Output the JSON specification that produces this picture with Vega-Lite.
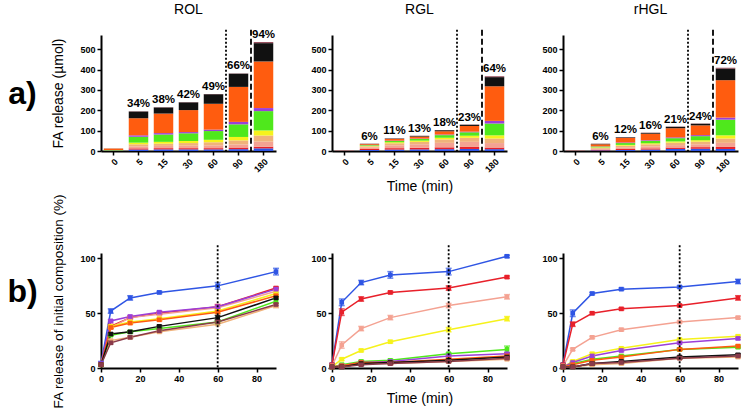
{
"$schema":"https://vega.github.io/schema/vega-lite/v6.json",
"background":"white",
"padding":{"left":0,"top":2,"right":0,"bottom":0},
"bounds":"flush",
"columns":4,
"spacing":{"row":102,"column":56},
"datasets":{
"panels":[{"p":"a)"},{"p":"b)"}],
"cuts":[{"t":90,"k":"dotted"},{"t":180,"k":"dashed"}],
"cut60":[{"t":60}],
"pct":[
{"s":"ROL","t":5,"total":195,"label":"34%"},{"s":"ROL","t":15,"total":215,"label":"38%"},{"s":"ROL","t":30,"total":240,"label":"42%"},{"s":"ROL","t":60,"total":280,"label":"49%"},{"s":"ROL","t":90,"total":381,"label":"66%"},{"s":"ROL","t":180,"total":535,"label":"94%"},
{"s":"RGL","t":5,"total":36,"label":"6%"},{"s":"RGL","t":15,"total":62,"label":"11%"},{"s":"RGL","t":30,"total":75,"label":"13%"},{"s":"RGL","t":60,"total":103,"label":"18%"},{"s":"RGL","t":90,"total":130,"label":"23%"},{"s":"RGL","t":180,"total":367,"label":"64%"},
{"s":"rHGL","t":5,"total":36,"label":"6%"},{"s":"rHGL","t":15,"total":68,"label":"12%"},{"s":"rHGL","t":30,"total":90,"label":"16%"},{"s":"rHGL","t":60,"total":120,"label":"21%"},{"s":"rHGL","t":90,"total":135,"label":"24%"},{"s":"rHGL","t":180,"total":409,"label":"72%"}
],
"bars":[
{"s":"ROL","t":0,"f":"FA01","v":0.5},{"s":"ROL","t":0,"f":"FA02","v":0.5},{"s":"ROL","t":0,"f":"FA03","v":0.5},{"s":"ROL","t":0,"f":"FA04","v":0.5},{"s":"ROL","t":0,"f":"FA05","v":0.5},{"s":"ROL","t":0,"f":"FA06","v":2},{"s":"ROL","t":0,"f":"FA07","v":0.5},{"s":"ROL","t":0,"f":"FA08","v":7},{"s":"ROL","t":0,"f":"FA09","v":0.5},
{"s":"ROL","t":5,"f":"FA01","v":7},{"s":"ROL","t":5,"f":"FA02","v":6},{"s":"ROL","t":5,"f":"FA03","v":10},{"s":"ROL","t":5,"f":"FA04","v":10},{"s":"ROL","t":5,"f":"FA05","v":8},{"s":"ROL","t":5,"f":"FA06","v":29},{"s":"ROL","t":5,"f":"FA07","v":7},{"s":"ROL","t":5,"f":"FA08","v":84},{"s":"ROL","t":5,"f":"FA09","v":33},{"s":"ROL","t":5,"f":"FA10","v":1},
{"s":"ROL","t":15,"f":"FA01","v":8},{"s":"ROL","t":15,"f":"FA02","v":6},{"s":"ROL","t":15,"f":"FA03","v":11},{"s":"ROL","t":15,"f":"FA04","v":11},{"s":"ROL","t":15,"f":"FA05","v":9},{"s":"ROL","t":15,"f":"FA06","v":36},{"s":"ROL","t":15,"f":"FA07","v":7},{"s":"ROL","t":15,"f":"FA08","v":96},{"s":"ROL","t":15,"f":"FA09","v":30},{"s":"ROL","t":15,"f":"FA10","v":1},
{"s":"ROL","t":30,"f":"FA01","v":8},{"s":"ROL","t":30,"f":"FA02","v":6},{"s":"ROL","t":30,"f":"FA03","v":12},{"s":"ROL","t":30,"f":"FA04","v":13},{"s":"ROL","t":30,"f":"FA05","v":10},{"s":"ROL","t":30,"f":"FA06","v":38},{"s":"ROL","t":30,"f":"FA07","v":6},{"s":"ROL","t":30,"f":"FA08","v":108},{"s":"ROL","t":30,"f":"FA09","v":38},{"s":"ROL","t":30,"f":"FA10","v":1},
{"s":"ROL","t":60,"f":"FA01","v":8},{"s":"ROL","t":60,"f":"FA02","v":6},{"s":"ROL","t":60,"f":"FA03","v":14},{"s":"ROL","t":60,"f":"FA04","v":15},{"s":"ROL","t":60,"f":"FA05","v":12},{"s":"ROL","t":60,"f":"FA06","v":43},{"s":"ROL","t":60,"f":"FA07","v":7},{"s":"ROL","t":60,"f":"FA08","v":127},{"s":"ROL","t":60,"f":"FA09","v":47},{"s":"ROL","t":60,"f":"FA10","v":1},
{"s":"ROL","t":90,"f":"FA01","v":9},{"s":"ROL","t":90,"f":"FA02","v":8},{"s":"ROL","t":90,"f":"FA03","v":15},{"s":"ROL","t":90,"f":"FA04","v":20},{"s":"ROL","t":90,"f":"FA05","v":17},{"s":"ROL","t":90,"f":"FA06","v":62},{"s":"ROL","t":90,"f":"FA07","v":12},{"s":"ROL","t":90,"f":"FA08","v":172},{"s":"ROL","t":90,"f":"FA09","v":65},{"s":"ROL","t":90,"f":"FA10","v":1},
{"s":"ROL","t":180,"f":"FA01","v":13},{"s":"ROL","t":180,"f":"FA02","v":8},{"s":"ROL","t":180,"f":"FA03","v":25},{"s":"ROL","t":180,"f":"FA04","v":30},{"s":"ROL","t":180,"f":"FA05","v":25},{"s":"ROL","t":180,"f":"FA06","v":95},{"s":"ROL","t":180,"f":"FA07","v":15},{"s":"ROL","t":180,"f":"FA08","v":229},{"s":"ROL","t":180,"f":"FA09","v":90},{"s":"ROL","t":180,"f":"FA10","v":5},
{"s":"RGL","t":0,"f":"FA01","v":0.5},{"s":"RGL","t":0,"f":"FA02","v":0.5},{"s":"RGL","t":0,"f":"FA03","v":0.5},{"s":"RGL","t":0,"f":"FA08","v":0.5},
{"s":"RGL","t":5,"f":"FA01","v":5},{"s":"RGL","t":5,"f":"FA02","v":5},{"s":"RGL","t":5,"f":"FA03","v":8},{"s":"RGL","t":5,"f":"FA04","v":5},{"s":"RGL","t":5,"f":"FA05","v":3},{"s":"RGL","t":5,"f":"FA06","v":3},{"s":"RGL","t":5,"f":"FA07","v":1},{"s":"RGL","t":5,"f":"FA08","v":4},{"s":"RGL","t":5,"f":"FA09","v":1},{"s":"RGL","t":5,"f":"FA10","v":1},
{"s":"RGL","t":15,"f":"FA01","v":7},{"s":"RGL","t":15,"f":"FA02","v":7},{"s":"RGL","t":15,"f":"FA03","v":14},{"s":"RGL","t":15,"f":"FA04","v":10},{"s":"RGL","t":15,"f":"FA05","v":5},{"s":"RGL","t":15,"f":"FA06","v":6},{"s":"RGL","t":15,"f":"FA07","v":2},{"s":"RGL","t":15,"f":"FA08","v":8},{"s":"RGL","t":15,"f":"FA09","v":2},{"s":"RGL","t":15,"f":"FA10","v":1},
{"s":"RGL","t":30,"f":"FA01","v":8},{"s":"RGL","t":30,"f":"FA02","v":8},{"s":"RGL","t":30,"f":"FA03","v":17},{"s":"RGL","t":30,"f":"FA04","v":12},{"s":"RGL","t":30,"f":"FA05","v":6},{"s":"RGL","t":30,"f":"FA06","v":8},{"s":"RGL","t":30,"f":"FA07","v":2},{"s":"RGL","t":30,"f":"FA08","v":10},{"s":"RGL","t":30,"f":"FA09","v":3},{"s":"RGL","t":30,"f":"FA10","v":1},
{"s":"RGL","t":60,"f":"FA01","v":9},{"s":"RGL","t":60,"f":"FA02","v":9},{"s":"RGL","t":60,"f":"FA03","v":22},{"s":"RGL","t":60,"f":"FA04","v":17},{"s":"RGL","t":60,"f":"FA05","v":8},{"s":"RGL","t":60,"f":"FA06","v":13},{"s":"RGL","t":60,"f":"FA07","v":3},{"s":"RGL","t":60,"f":"FA08","v":16},{"s":"RGL","t":60,"f":"FA09","v":5},{"s":"RGL","t":60,"f":"FA10","v":1},
{"s":"RGL","t":90,"f":"FA01","v":10},{"s":"RGL","t":90,"f":"FA02","v":10},{"s":"RGL","t":90,"f":"FA03","v":25},{"s":"RGL","t":90,"f":"FA04","v":20},{"s":"RGL","t":90,"f":"FA05","v":10},{"s":"RGL","t":90,"f":"FA06","v":17},{"s":"RGL","t":90,"f":"FA07","v":3},{"s":"RGL","t":90,"f":"FA08","v":28},{"s":"RGL","t":90,"f":"FA09","v":6},{"s":"RGL","t":90,"f":"FA10","v":1},
{"s":"RGL","t":180,"f":"FA01","v":9},{"s":"RGL","t":180,"f":"FA02","v":8},{"s":"RGL","t":180,"f":"FA03","v":22},{"s":"RGL","t":180,"f":"FA04","v":22},{"s":"RGL","t":180,"f":"FA05","v":16},{"s":"RGL","t":180,"f":"FA06","v":58},{"s":"RGL","t":180,"f":"FA07","v":13},{"s":"RGL","t":180,"f":"FA08","v":170},{"s":"RGL","t":180,"f":"FA09","v":45},{"s":"RGL","t":180,"f":"FA10","v":4},
{"s":"rHGL","t":0,"f":"FA01","v":0.5},{"s":"rHGL","t":0,"f":"FA02","v":0.5},{"s":"rHGL","t":0,"f":"FA03","v":0.5},{"s":"rHGL","t":0,"f":"FA08","v":0.5},
{"s":"rHGL","t":5,"f":"FA01","v":3},{"s":"rHGL","t":5,"f":"FA02","v":3},{"s":"rHGL","t":5,"f":"FA03","v":5},{"s":"rHGL","t":5,"f":"FA04","v":5},{"s":"rHGL","t":5,"f":"FA05","v":2},{"s":"rHGL","t":5,"f":"FA06","v":4},{"s":"rHGL","t":5,"f":"FA07","v":1},{"s":"rHGL","t":5,"f":"FA08","v":10},{"s":"rHGL","t":5,"f":"FA09","v":2},{"s":"rHGL","t":5,"f":"FA10","v":1},
{"s":"rHGL","t":15,"f":"FA01","v":5},{"s":"rHGL","t":15,"f":"FA02","v":5},{"s":"rHGL","t":15,"f":"FA03","v":8},{"s":"rHGL","t":15,"f":"FA04","v":8},{"s":"rHGL","t":15,"f":"FA05","v":4},{"s":"rHGL","t":15,"f":"FA06","v":9},{"s":"rHGL","t":15,"f":"FA07","v":3},{"s":"rHGL","t":15,"f":"FA08","v":22},{"s":"rHGL","t":15,"f":"FA09","v":3},{"s":"rHGL","t":15,"f":"FA10","v":1},
{"s":"rHGL","t":30,"f":"FA01","v":7},{"s":"rHGL","t":30,"f":"FA02","v":6},{"s":"rHGL","t":30,"f":"FA03","v":10},{"s":"rHGL","t":30,"f":"FA04","v":10},{"s":"rHGL","t":30,"f":"FA05","v":5},{"s":"rHGL","t":30,"f":"FA06","v":12},{"s":"rHGL","t":30,"f":"FA07","v":3},{"s":"rHGL","t":30,"f":"FA08","v":32},{"s":"rHGL","t":30,"f":"FA09","v":4},{"s":"rHGL","t":30,"f":"FA10","v":1},
{"s":"rHGL","t":60,"f":"FA01","v":10},{"s":"rHGL","t":60,"f":"FA02","v":7},{"s":"rHGL","t":60,"f":"FA03","v":12},{"s":"rHGL","t":60,"f":"FA04","v":12},{"s":"rHGL","t":60,"f":"FA05","v":6},{"s":"rHGL","t":60,"f":"FA06","v":16},{"s":"rHGL","t":60,"f":"FA07","v":4},{"s":"rHGL","t":60,"f":"FA08","v":45},{"s":"rHGL","t":60,"f":"FA09","v":7},{"s":"rHGL","t":60,"f":"FA10","v":1},
{"s":"rHGL","t":90,"f":"FA01","v":11},{"s":"rHGL","t":90,"f":"FA02","v":8},{"s":"rHGL","t":90,"f":"FA03","v":14},{"s":"rHGL","t":90,"f":"FA04","v":13},{"s":"rHGL","t":90,"f":"FA05","v":7},{"s":"rHGL","t":90,"f":"FA06","v":20},{"s":"rHGL","t":90,"f":"FA07","v":5},{"s":"rHGL","t":90,"f":"FA08","v":48},{"s":"rHGL","t":90,"f":"FA09","v":8},{"s":"rHGL","t":90,"f":"FA10","v":1},
{"s":"rHGL","t":180,"f":"FA01","v":10},{"s":"rHGL","t":180,"f":"FA02","v":10},{"s":"rHGL","t":180,"f":"FA03","v":20},{"s":"rHGL","t":180,"f":"FA04","v":21},{"s":"rHGL","t":180,"f":"FA05","v":16},{"s":"rHGL","t":180,"f":"FA06","v":77},{"s":"rHGL","t":180,"f":"FA07","v":10},{"s":"rHGL","t":180,"f":"FA08","v":184},{"s":"rHGL","t":180,"f":"FA09","v":57},{"s":"rHGL","t":180,"f":"FA10","v":4}
],
"lines":[
{"s":"ROL","f":"FA01","t":0,"v":4,"e":2},{"s":"ROL","f":"FA01","t":5,"v":52,"e":2},{"s":"ROL","f":"FA01","t":15,"v":64,"e":2},{"s":"ROL","f":"FA01","t":30,"v":69,"e":1},{"s":"ROL","f":"FA01","t":60,"v":75,"e":3},{"s":"ROL","f":"FA01","t":90,"v":88,"e":3},
{"s":"ROL","f":"FA02","t":0,"v":3,"e":1},{"s":"ROL","f":"FA02","t":5,"v":38,"e":2},{"s":"ROL","f":"FA02","t":15,"v":46,"e":1},{"s":"ROL","f":"FA02","t":30,"v":50,"e":1},{"s":"ROL","f":"FA02","t":60,"v":56,"e":2},{"s":"ROL","f":"FA02","t":90,"v":73,"e":1},
{"s":"ROL","f":"FA03","t":0,"v":3,"e":1},{"s":"ROL","f":"FA03","t":5,"v":37,"e":1},{"s":"ROL","f":"FA03","t":15,"v":46,"e":1},{"s":"ROL","f":"FA03","t":30,"v":49,"e":1},{"s":"ROL","f":"FA03","t":60,"v":55,"e":1},{"s":"ROL","f":"FA03","t":90,"v":70,"e":1},
{"s":"ROL","f":"FA04","t":0,"v":3,"e":1},{"s":"ROL","f":"FA04","t":5,"v":25,"e":1},{"s":"ROL","f":"FA04","t":15,"v":28,"e":1},{"s":"ROL","f":"FA04","t":30,"v":33,"e":1},{"s":"ROL","f":"FA04","t":60,"v":40,"e":1},{"s":"ROL","f":"FA04","t":90,"v":57,"e":2},
{"s":"ROL","f":"FA05","t":0,"v":3,"e":1},{"s":"ROL","f":"FA05","t":5,"v":38,"e":1},{"s":"ROL","f":"FA05","t":15,"v":42,"e":1},{"s":"ROL","f":"FA05","t":30,"v":45,"e":1},{"s":"ROL","f":"FA05","t":60,"v":52,"e":2},{"s":"ROL","f":"FA05","t":90,"v":68,"e":1},
{"s":"ROL","f":"FA06","t":0,"v":3,"e":1},{"s":"ROL","f":"FA06","t":5,"v":30,"e":1},{"s":"ROL","f":"FA06","t":15,"v":33,"e":1},{"s":"ROL","f":"FA06","t":30,"v":36,"e":1},{"s":"ROL","f":"FA06","t":60,"v":42,"e":1},{"s":"ROL","f":"FA06","t":90,"v":61,"e":2},
{"s":"ROL","f":"FA07","t":0,"v":4,"e":1},{"s":"ROL","f":"FA07","t":5,"v":43,"e":1},{"s":"ROL","f":"FA07","t":15,"v":47,"e":1},{"s":"ROL","f":"FA07","t":30,"v":51,"e":1},{"s":"ROL","f":"FA07","t":60,"v":56,"e":1},{"s":"ROL","f":"FA07","t":90,"v":72,"e":1},
{"s":"ROL","f":"FA08","t":0,"v":3,"e":1},{"s":"ROL","f":"FA08","t":5,"v":37,"e":1},{"s":"ROL","f":"FA08","t":15,"v":41,"e":1},{"s":"ROL","f":"FA08","t":30,"v":44,"e":1},{"s":"ROL","f":"FA08","t":60,"v":51,"e":1},{"s":"ROL","f":"FA08","t":90,"v":66,"e":1},
{"s":"ROL","f":"FA09","t":0,"v":3,"e":1},{"s":"ROL","f":"FA09","t":5,"v":31,"e":1},{"s":"ROL","f":"FA09","t":15,"v":33,"e":1},{"s":"ROL","f":"FA09","t":30,"v":38,"e":1},{"s":"ROL","f":"FA09","t":60,"v":46,"e":2},{"s":"ROL","f":"FA09","t":90,"v":64,"e":1},
{"s":"ROL","f":"FA10","t":0,"v":3,"e":1},{"s":"ROL","f":"FA10","t":5,"v":23,"e":1},{"s":"ROL","f":"FA10","t":15,"v":28,"e":1},{"s":"ROL","f":"FA10","t":30,"v":34,"e":1},{"s":"ROL","f":"FA10","t":60,"v":42,"e":1},{"s":"ROL","f":"FA10","t":90,"v":58,"e":1},
{"s":"RGL","f":"FA01","t":0,"v":3,"e":1},{"s":"RGL","f":"FA01","t":5,"v":60,"e":3},{"s":"RGL","f":"FA01","t":15,"v":78,"e":2},{"s":"RGL","f":"FA01","t":30,"v":85,"e":3},{"s":"RGL","f":"FA01","t":60,"v":88,"e":3},{"s":"RGL","f":"FA01","t":90,"v":102,"e":1},
{"s":"RGL","f":"FA02","t":0,"v":3,"e":1},{"s":"RGL","f":"FA02","t":5,"v":51,"e":3},{"s":"RGL","f":"FA02","t":15,"v":63,"e":2},{"s":"RGL","f":"FA02","t":30,"v":69,"e":1},{"s":"RGL","f":"FA02","t":60,"v":73,"e":2},{"s":"RGL","f":"FA02","t":90,"v":83,"e":1},
{"s":"RGL","f":"FA03","t":0,"v":2,"e":1},{"s":"RGL","f":"FA03","t":5,"v":21,"e":3},{"s":"RGL","f":"FA03","t":15,"v":36,"e":2},{"s":"RGL","f":"FA03","t":30,"v":46,"e":2},{"s":"RGL","f":"FA03","t":60,"v":57,"e":2},{"s":"RGL","f":"FA03","t":90,"v":65,"e":2},
{"s":"RGL","f":"FA04","t":0,"v":1,"e":0},{"s":"RGL","f":"FA04","t":5,"v":1,"e":1},{"s":"RGL","f":"FA04","t":15,"v":4,"e":1},{"s":"RGL","f":"FA04","t":30,"v":4,"e":1},{"s":"RGL","f":"FA04","t":60,"v":6,"e":1},{"s":"RGL","f":"FA04","t":90,"v":8,"e":1},
{"s":"RGL","f":"FA05","t":0,"v":1,"e":0},{"s":"RGL","f":"FA05","t":5,"v":8,"e":1},{"s":"RGL","f":"FA05","t":15,"v":16,"e":1},{"s":"RGL","f":"FA05","t":30,"v":24,"e":1},{"s":"RGL","f":"FA05","t":60,"v":35,"e":2},{"s":"RGL","f":"FA05","t":90,"v":45,"e":2},
{"s":"RGL","f":"FA06","t":0,"v":1,"e":0},{"s":"RGL","f":"FA06","t":5,"v":3,"e":1},{"s":"RGL","f":"FA06","t":15,"v":6,"e":1},{"s":"RGL","f":"FA06","t":30,"v":7,"e":1},{"s":"RGL","f":"FA06","t":60,"v":13,"e":1},{"s":"RGL","f":"FA06","t":90,"v":17,"e":3},
{"s":"RGL","f":"FA07","t":0,"v":1,"e":0},{"s":"RGL","f":"FA07","t":5,"v":2,"e":1},{"s":"RGL","f":"FA07","t":15,"v":5,"e":1},{"s":"RGL","f":"FA07","t":30,"v":6,"e":1},{"s":"RGL","f":"FA07","t":60,"v":11,"e":1},{"s":"RGL","f":"FA07","t":90,"v":13,"e":1},
{"s":"RGL","f":"FA08","t":0,"v":1,"e":0},{"s":"RGL","f":"FA08","t":5,"v":2,"e":1},{"s":"RGL","f":"FA08","t":15,"v":5,"e":1},{"s":"RGL","f":"FA08","t":30,"v":5,"e":1},{"s":"RGL","f":"FA08","t":60,"v":8,"e":1},{"s":"RGL","f":"FA08","t":90,"v":11,"e":2},
{"s":"RGL","f":"FA09","t":0,"v":1,"e":0},{"s":"RGL","f":"FA09","t":5,"v":1,"e":1},{"s":"RGL","f":"FA09","t":15,"v":4,"e":1},{"s":"RGL","f":"FA09","t":30,"v":5,"e":1},{"s":"RGL","f":"FA09","t":60,"v":7,"e":1},{"s":"RGL","f":"FA09","t":90,"v":10,"e":1},
{"s":"RGL","f":"FA10","t":0,"v":1,"e":0},{"s":"RGL","f":"FA10","t":5,"v":1,"e":1},{"s":"RGL","f":"FA10","t":15,"v":3,"e":1},{"s":"RGL","f":"FA10","t":30,"v":4,"e":1},{"s":"RGL","f":"FA10","t":60,"v":6,"e":1},{"s":"RGL","f":"FA10","t":90,"v":9,"e":1},
{"s":"rHGL","f":"FA01","t":0,"v":3,"e":1},{"s":"rHGL","f":"FA01","t":5,"v":50,"e":3},{"s":"rHGL","f":"FA01","t":15,"v":68,"e":1},{"s":"rHGL","f":"FA01","t":30,"v":72,"e":1},{"s":"rHGL","f":"FA01","t":60,"v":74,"e":1},{"s":"rHGL","f":"FA01","t":90,"v":79,"e":2},
{"s":"rHGL","f":"FA02","t":0,"v":3,"e":1},{"s":"rHGL","f":"FA02","t":5,"v":40,"e":2},{"s":"rHGL","f":"FA02","t":15,"v":50,"e":1},{"s":"rHGL","f":"FA02","t":30,"v":54,"e":1},{"s":"rHGL","f":"FA02","t":60,"v":57,"e":1},{"s":"rHGL","f":"FA02","t":90,"v":64,"e":2},
{"s":"rHGL","f":"FA03","t":0,"v":2,"e":1},{"s":"rHGL","f":"FA03","t":5,"v":17,"e":1},{"s":"rHGL","f":"FA03","t":15,"v":28,"e":1},{"s":"rHGL","f":"FA03","t":30,"v":35,"e":1},{"s":"rHGL","f":"FA03","t":60,"v":42,"e":1},{"s":"rHGL","f":"FA03","t":90,"v":46,"e":1},
{"s":"rHGL","f":"FA04","t":0,"v":1,"e":0},{"s":"rHGL","f":"FA04","t":5,"v":1,"e":1},{"s":"rHGL","f":"FA04","t":15,"v":3,"e":1},{"s":"rHGL","f":"FA04","t":30,"v":4,"e":1},{"s":"rHGL","f":"FA04","t":60,"v":9,"e":1},{"s":"rHGL","f":"FA04","t":90,"v":10,"e":1},
{"s":"rHGL","f":"FA05","t":0,"v":1,"e":0},{"s":"rHGL","f":"FA05","t":5,"v":6,"e":1},{"s":"rHGL","f":"FA05","t":15,"v":13,"e":1},{"s":"rHGL","f":"FA05","t":30,"v":18,"e":1},{"s":"rHGL","f":"FA05","t":60,"v":26,"e":1},{"s":"rHGL","f":"FA05","t":90,"v":29,"e":1},
{"s":"rHGL","f":"FA06","t":0,"v":1,"e":0},{"s":"rHGL","f":"FA06","t":5,"v":4,"e":1},{"s":"rHGL","f":"FA06","t":15,"v":8,"e":1},{"s":"rHGL","f":"FA06","t":30,"v":11,"e":1},{"s":"rHGL","f":"FA06","t":60,"v":17,"e":1},{"s":"rHGL","f":"FA06","t":90,"v":19,"e":1},
{"s":"rHGL","f":"FA07","t":0,"v":1,"e":0},{"s":"rHGL","f":"FA07","t":5,"v":5,"e":1},{"s":"rHGL","f":"FA07","t":15,"v":11,"e":1},{"s":"rHGL","f":"FA07","t":30,"v":16,"e":1},{"s":"rHGL","f":"FA07","t":60,"v":23,"e":1},{"s":"rHGL","f":"FA07","t":90,"v":27,"e":1},
{"s":"rHGL","f":"FA08","t":0,"v":1,"e":0},{"s":"rHGL","f":"FA08","t":5,"v":3,"e":1},{"s":"rHGL","f":"FA08","t":15,"v":7,"e":1},{"s":"rHGL","f":"FA08","t":30,"v":10,"e":1},{"s":"rHGL","f":"FA08","t":60,"v":17,"e":1},{"s":"rHGL","f":"FA08","t":90,"v":20,"e":1},
{"s":"rHGL","f":"FA09","t":0,"v":1,"e":0},{"s":"rHGL","f":"FA09","t":5,"v":1,"e":1},{"s":"rHGL","f":"FA09","t":15,"v":4,"e":1},{"s":"rHGL","f":"FA09","t":30,"v":6,"e":1},{"s":"rHGL","f":"FA09","t":60,"v":10,"e":1},{"s":"rHGL","f":"FA09","t":90,"v":12,"e":1},
{"s":"rHGL","f":"FA10","t":0,"v":1,"e":0},{"s":"rHGL","f":"FA10","t":5,"v":1,"e":1},{"s":"rHGL","f":"FA10","t":15,"v":4,"e":1},{"s":"rHGL","f":"FA10","t":30,"v":5,"e":1},{"s":"rHGL","f":"FA10","t":60,"v":9,"e":1},{"s":"rHGL","f":"FA10","t":90,"v":11,"e":1}
]
},
"concat":[
 {"width":45,"height":116,"data":{"name":"panels"},"transform":[{"filter":"datum.p==='a)'"}],"mark":{"type":"text","fontSize":32,"fontWeight":"bold","font":"Liberation Sans","color":"black","dy":1},"encoding":{"text":{"field":"p"}}},
 {"width":175,"height":116,"title":"ROL","layer":[
  {"data":{"name":"bars"},"transform":[{"filter":"datum.s==='ROL'"}],"mark":{"type":"bar"},"encoding":{
   "x":{"field":"t","type":"ordinal","title":null,"scale":{"domain":[0,5,15,30,60,90,180],"paddingInner":0.22,"paddingOuter":0.11},"axis":{"labelAngle":-45}},
   "y":{"field":"v","type":"quantitative","title":"FA release (µmol)","stack":"zero","scale":{"domain":[0,570],"nice":false},"axis":{"values":[0,100,200,300,400,500],"tickCount":6,"labelOverlap":false}},
   "color":{"field":"f","type":"nominal","scale":{"domain":["FA01","FA02","FA03","FA04","FA05","FA06","FA07","FA08","FA09","FA10"],"range":["#2f55e4","#e8202a","#f4a292","#f0b27a","#f6f21c","#4fe81c","#9b3fd8","#ff5c0f","#111111","#8a3a4a"]},"legend":null},
   "order":{"field":"f","type":"ordinal","sort":"ascending"}}},
  {"data":{"name":"pct"},"transform":[{"filter":"datum.s==='ROL'"}],"mark":{"type":"text","baseline":"bottom","dy":-2,"fontSize":11.5,"fontWeight":"bold","font":"Liberation Sans","color":"black"},"encoding":{"x":{"field":"t","type":"ordinal","title":null,"axis":{"labelAngle":-45}},"y":{"field":"total","type":"quantitative","title":"FA release (µmol)","axis":{"values":[0,100,200,300,400,500],"tickCount":6,"labelOverlap":false}},"text":{"field":"label"}}},
  {"data":{"name":"cuts"},"mark":{"type":"rule","strokeWidth":1.8,"color":"black","xOffset":-2.75,"clip":false},"encoding":{"x":{"field":"t","type":"ordinal","title":null,"bandPosition":0,"axis":{"labelAngle":-45}},"y":{"datum":596},"y2":{"datum":0},"strokeDash":{"field":"k","type":"nominal","scale":{"domain":["dotted","dashed"],"range":[[2,2],[6,3]]},"legend":null}}}
 ]},
 {"width":175,"height":116,"title":"RGL","layer":[
  {"data":{"name":"bars"},"transform":[{"filter":"datum.s==='RGL'"}],"mark":{"type":"bar"},"encoding":{
   "x":{"field":"t","type":"ordinal","title":"Time (min)","scale":{"domain":[0,5,15,30,60,90,180],"paddingInner":0.22,"paddingOuter":0.11},"axis":{"labelAngle":-45,"titlePadding":6}},
   "y":{"field":"v","type":"quantitative","title":null,"stack":"zero","scale":{"domain":[0,570],"nice":false},"axis":{"values":[0,100,200,300,400,500],"tickCount":6,"labelOverlap":false}},
   "color":{"field":"f","type":"nominal","scale":{"domain":["FA01","FA02","FA03","FA04","FA05","FA06","FA07","FA08","FA09","FA10"],"range":["#2f55e4","#e8202a","#f4a292","#f0b27a","#f6f21c","#4fe81c","#9b3fd8","#ff5c0f","#111111","#8a3a4a"]},"legend":null},
   "order":{"field":"f","type":"ordinal","sort":"ascending"}}},
  {"data":{"name":"pct"},"transform":[{"filter":"datum.s==='RGL'"}],"mark":{"type":"text","baseline":"bottom","dy":-2,"fontSize":11.5,"fontWeight":"bold","font":"Liberation Sans","color":"black"},"encoding":{"x":{"field":"t","type":"ordinal","title":"Time (min)","axis":{"labelAngle":-45,"titlePadding":6}},"y":{"field":"total","type":"quantitative","title":null,"axis":{"values":[0,100,200,300,400,500],"tickCount":6,"labelOverlap":false}},"text":{"field":"label"}}},
  {"data":{"name":"cuts"},"mark":{"type":"rule","strokeWidth":1.8,"color":"black","xOffset":-2.75,"clip":false},"encoding":{"x":{"field":"t","type":"ordinal","title":"Time (min)","bandPosition":0,"axis":{"labelAngle":-45,"titlePadding":6}},"y":{"datum":596},"y2":{"datum":0},"strokeDash":{"field":"k","type":"nominal","scale":{"domain":["dotted","dashed"],"range":[[2,2],[6,3]]},"legend":null}}}
 ]},
 {"width":175,"height":116,"title":"rHGL","layer":[
  {"data":{"name":"bars"},"transform":[{"filter":"datum.s==='rHGL'"}],"mark":{"type":"bar"},"encoding":{
   "x":{"field":"t","type":"ordinal","title":null,"scale":{"domain":[0,5,15,30,60,90,180],"paddingInner":0.22,"paddingOuter":0.11},"axis":{"labelAngle":-45}},
   "y":{"field":"v","type":"quantitative","title":null,"stack":"zero","scale":{"domain":[0,570],"nice":false},"axis":{"values":[0,100,200,300,400,500],"tickCount":6,"labelOverlap":false}},
   "color":{"field":"f","type":"nominal","scale":{"domain":["FA01","FA02","FA03","FA04","FA05","FA06","FA07","FA08","FA09","FA10"],"range":["#2f55e4","#e8202a","#f4a292","#f0b27a","#f6f21c","#4fe81c","#9b3fd8","#ff5c0f","#111111","#8a3a4a"]},"legend":null},
   "order":{"field":"f","type":"ordinal","sort":"ascending"}}},
  {"data":{"name":"pct"},"transform":[{"filter":"datum.s==='rHGL'"}],"mark":{"type":"text","baseline":"bottom","dy":-2,"fontSize":11.5,"fontWeight":"bold","font":"Liberation Sans","color":"black"},"encoding":{"x":{"field":"t","type":"ordinal","title":null,"axis":{"labelAngle":-45}},"y":{"field":"total","type":"quantitative","title":null,"axis":{"values":[0,100,200,300,400,500],"tickCount":6,"labelOverlap":false}},"text":{"field":"label"}}},
  {"data":{"name":"cuts"},"mark":{"type":"rule","strokeWidth":1.8,"color":"black","xOffset":-2.75,"clip":false},"encoding":{"x":{"field":"t","type":"ordinal","title":null,"bandPosition":0,"axis":{"labelAngle":-45}},"y":{"datum":596},"y2":{"datum":0},"strokeDash":{"field":"k","type":"nominal","scale":{"domain":["dotted","dashed"],"range":[[2,2],[6,3]]},"legend":null}}}
 ]},
 {"width":45,"height":115,"data":{"name":"panels"},"transform":[{"filter":"datum.p==='b)'"}],"mark":{"type":"text","fontSize":32,"fontWeight":"bold","font":"Liberation Sans","color":"black","dy":-19},"encoding":{"text":{"field":"p"}}},
 {"width":175,"height":115,"layer":[
  {"data":{"name":"lines"},"transform":[{"filter":"datum.s==='ROL'"}],"mark":{"type":"line","strokeWidth":1.5,"clip":false},"encoding":{
   "x":{"field":"t","type":"quantitative","title":null,"scale":{"domain":[0,90],"nice":false},"axis":{"values":[0,20,40,60,80]}},
   "y":{"field":"v","type":"quantitative","title":"FA release of initial composition (%)","scale":{"domain":[0,105],"nice":false},"axis":{"values":{"expr":"[0,25,50,75,100]"},"labelOverlap":false,"titleFontSize":13.5,"titleY":48}},
   "color":{"field":"f","type":"nominal","scale":{"domain":["FA01","FA02","FA03","FA04","FA05","FA06","FA07","FA08","FA09","FA10"],"range":["#2f55e4","#e8202a","#f4a292","#f0b27a","#f6f21c","#4fe81c","#9b3fd8","#ff5c0f","#111111","#8a3a4a"]},"legend":null}}},
  {"data":{"name":"lines"},"transform":[{"filter":"datum.s==='ROL'"}],"mark":{"type":"errorbar","ticks":{"size":6},"thickness":1.5,"clip":false},"encoding":{"x":{"field":"t","type":"quantitative","title":null,"axis":{"values":[0,20,40,60,80]}},"y":{"field":"v","type":"quantitative","title":"FA release of initial composition (%)","axis":{"values":{"expr":"[0,25,50,75,100]"},"labelOverlap":false,"titleFontSize":13.5,"titleY":48}},"yError":{"field":"e"},"color":{"field":"f","type":"nominal","legend":null}}},
  {"data":{"name":"lines"},"transform":[{"filter":"datum.s==='ROL'"}],"mark":{"type":"square","size":22,"opacity":1,"clip":false},"encoding":{"x":{"field":"t","type":"quantitative","title":null,"axis":{"values":[0,20,40,60,80]}},"y":{"field":"v","type":"quantitative","title":"FA release of initial composition (%)","axis":{"values":{"expr":"[0,25,50,75,100]"},"labelOverlap":false,"titleFontSize":13.5,"titleY":48}},"color":{"field":"f","type":"nominal","legend":null}}},
  {"data":{"name":"cut60"},"mark":{"type":"rule","strokeWidth":1.8,"color":"black","strokeDash":[2,2],"clip":false},"encoding":{"x":{"field":"t","type":"quantitative","title":null,"axis":{"values":[0,20,40,60,80]}},"y":{"datum":112},"y2":{"datum":0}}}
 ]},
 {"width":175,"height":115,"layer":[
  {"data":{"name":"lines"},"transform":[{"filter":"datum.s==='RGL'"}],"mark":{"type":"line","strokeWidth":1.5,"clip":false},"encoding":{
   "x":{"field":"t","type":"quantitative","title":"Time (min)","scale":{"domain":[0,90],"nice":false},"axis":{"values":[0,20,40,60,80],"titlePadding":8}},
   "y":{"field":"v","type":"quantitative","title":null,"scale":{"domain":[0,105],"nice":false},"axis":{"values":{"expr":"[0,25,50,75,100]"},"labelOverlap":false}},
   "color":{"field":"f","type":"nominal","scale":{"domain":["FA01","FA02","FA03","FA04","FA05","FA06","FA07","FA08","FA09","FA10"],"range":["#2f55e4","#e8202a","#f4a292","#f0b27a","#f6f21c","#4fe81c","#9b3fd8","#ff5c0f","#111111","#8a3a4a"]},"legend":null}}},
  {"data":{"name":"lines"},"transform":[{"filter":"datum.s==='RGL'"}],"mark":{"type":"errorbar","ticks":{"size":6},"thickness":1.5,"clip":false},"encoding":{"x":{"field":"t","type":"quantitative","title":"Time (min)","axis":{"values":[0,20,40,60,80],"titlePadding":8}},"y":{"field":"v","type":"quantitative","title":null,"axis":{"values":{"expr":"[0,25,50,75,100]"},"labelOverlap":false}},"yError":{"field":"e"},"color":{"field":"f","type":"nominal","legend":null}}},
  {"data":{"name":"lines"},"transform":[{"filter":"datum.s==='RGL'"}],"mark":{"type":"square","size":22,"opacity":1,"clip":false},"encoding":{"x":{"field":"t","type":"quantitative","title":"Time (min)","axis":{"values":[0,20,40,60,80],"titlePadding":8}},"y":{"field":"v","type":"quantitative","title":null,"axis":{"values":{"expr":"[0,25,50,75,100]"},"labelOverlap":false}},"color":{"field":"f","type":"nominal","legend":null}}},
  {"data":{"name":"cut60"},"mark":{"type":"rule","strokeWidth":1.8,"color":"black","strokeDash":[2,2],"clip":false},"encoding":{"x":{"field":"t","type":"quantitative","title":"Time (min)","axis":{"values":[0,20,40,60,80],"titlePadding":8}},"y":{"datum":112},"y2":{"datum":0}}}
 ]},
 {"width":175,"height":115,"layer":[
  {"data":{"name":"lines"},"transform":[{"filter":"datum.s==='rHGL'"}],"mark":{"type":"line","strokeWidth":1.5,"clip":false},"encoding":{
   "x":{"field":"t","type":"quantitative","title":null,"scale":{"domain":[0,90],"nice":false},"axis":{"values":[0,20,40,60,80]}},
   "y":{"field":"v","type":"quantitative","title":null,"scale":{"domain":[0,105],"nice":false},"axis":{"values":{"expr":"[0,25,50,75,100]"},"labelOverlap":false}},
   "color":{"field":"f","type":"nominal","scale":{"domain":["FA01","FA02","FA03","FA04","FA05","FA06","FA07","FA08","FA09","FA10"],"range":["#2f55e4","#e8202a","#f4a292","#f0b27a","#f6f21c","#4fe81c","#9b3fd8","#ff5c0f","#111111","#8a3a4a"]},"legend":null}}},
  {"data":{"name":"lines"},"transform":[{"filter":"datum.s==='rHGL'"}],"mark":{"type":"errorbar","ticks":{"size":6},"thickness":1.5,"clip":false},"encoding":{"x":{"field":"t","type":"quantitative","title":null,"axis":{"values":[0,20,40,60,80]}},"y":{"field":"v","type":"quantitative","title":null,"axis":{"values":{"expr":"[0,25,50,75,100]"},"labelOverlap":false}},"yError":{"field":"e"},"color":{"field":"f","type":"nominal","legend":null}}},
  {"data":{"name":"lines"},"transform":[{"filter":"datum.s==='rHGL'"}],"mark":{"type":"square","size":22,"opacity":1,"clip":false},"encoding":{"x":{"field":"t","type":"quantitative","title":null,"axis":{"values":[0,20,40,60,80]}},"y":{"field":"v","type":"quantitative","title":null,"axis":{"values":{"expr":"[0,25,50,75,100]"},"labelOverlap":false}},"color":{"field":"f","type":"nominal","legend":null}}},
  {"data":{"name":"cut60"},"mark":{"type":"rule","strokeWidth":1.8,"color":"black","strokeDash":[2,2],"clip":false},"encoding":{"x":{"field":"t","type":"quantitative","title":null,"axis":{"values":[0,20,40,60,80]}},"y":{"datum":112},"y2":{"datum":0}}}
 ]}
],
"config":{
 "view":{"stroke":null},
 "font":"Liberation Sans",
 "axis":{"domainColor":"black","domainWidth":2,"tickColor":"black","tickWidth":1.5,"tickSize":4,"labelFont":"Liberation Sans","labelFontWeight":"bold","labelFontSize":9,"labelColor":"black","labelPadding":2,"labelFlush":false,"labelOverlap":false,"titleFont":"Liberation Sans","titleFontWeight":"normal","titleFontSize":14,"titleColor":"black","grid":false},
 "axisY":{"titlePadding":14},
 "title":{"font":"Liberation Sans","fontSize":14,"fontWeight":"normal","color":"black","offset":12}
}
}
